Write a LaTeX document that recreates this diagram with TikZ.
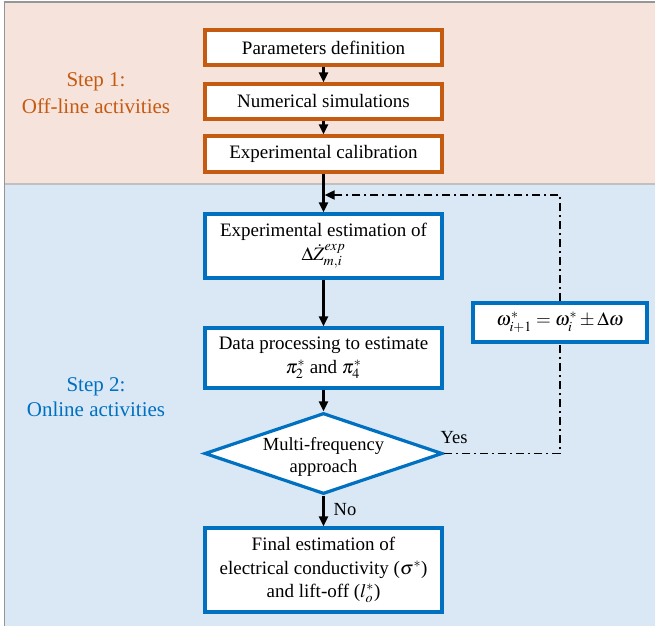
\documentclass[tikz,border=0pt]{standalone}
\usepackage{mathptmx}
\usepackage[no-math]{fontspec}
\setmainfont{Liberation Serif}
\usetikzlibrary{shapes.geometric,arrows.meta,calc}
\definecolor{pinkbg}{RGB}{246,227,219}
\definecolor{bluebg}{RGB}{218,232,246}
\definecolor{orangeC}{RGB}{197,90,17}
\definecolor{blueC}{RGB}{0,112,192}
\definecolor{frameC}{RGB}{150,150,150}
\tikzset{
  obox/.style={draw=orangeC, line width=3.2pt, fill=white, minimum width=237pt, minimum height=35pt, inner sep=0pt, font=\fontsize{19}{23}\selectfont, align=center},
  bbox/.style={draw=blueC, line width=3.2pt, fill=white, minimum width=237pt, minimum height=60pt, inner sep=0pt, font=\fontsize{19}{23.5}\selectfont, align=center},
  diabox/.style={draw=blueC, line width=3.2pt, fill=white, shape=diamond, aspect=2.94, inner sep=0pt, minimum width=238pt, minimum height=81pt},
  arr/.style={line width=2.2pt, -{Triangle[length=10pt,width=9pt]}},
  dashdot/.style={line width=1.8pt, dash pattern=on 8pt off 4pt on 2pt off 4pt},
  lbl/.style={font=\fontsize{18.5}{22.5}\selectfont, inner sep=0pt}
}
\begin{document}
\begin{tikzpicture}[x=1pt,y=-1pt]
\useasboundingbox (0,0) rectangle (655,626);
% backgrounds
\fill[pinkbg] (4.5,2) rectangle (655,184);
\fill[bluebg] (4.5,184) rectangle (655,626);
\draw[line width=1.2pt, color=frameC!60] (4.5,184) -- (655,184);
\draw[line width=1.8pt, color=frameC] (4.5,626) -- (4.5,2) -- (655,2);
% step labels
\node[text=orangeC, font=\fontsize{21}{27}\selectfont, align=center] (s1) at (96,93.5) {Step 1:\\Off-line activities};
\node[text=blueC, font=\fontsize{21}{25}\selectfont, align=center] (s2) at (96,397.5) {Step 2:\\Online activities};
% nodes
\node[obox] (par) at (323.5,47.5) {Parameters definition};
\node[obox] (num) at (323.5,101.5) {Numerical simulations};
\node[obox, minimum height=36pt] (cal) at (323.5,154) {Experimental calibration};
\node[bbox, minimum height=64pt] (exp) at (323.5,246) {Experimental estimation of\\$\Delta\dot{Z}^{exp}_{m,i}$};
\node[bbox, minimum height=60pt] (dp) at (323.5,358) {Data processing to estimate\\$\pi_2^*$ and $\pi_4^*$};
\node[diabox] (dia) at (323.5,453.5) {};
\node[lbl, align=center] (diat) at (323.5,457) {Multi-frequency\\approach};
\node[bbox, minimum height=84pt] (fin) at (323.5,570) {Final estimation of\\electrical conductivity ($\sigma^*$)\\and lift-off ($l_o^*$)};
\node[bbox, minimum width=174pt, minimum height=39pt] (om) at (560,322.5) {$\omega^*_{i+1} = \omega^*_i \pm \Delta\omega$};
\coordinate (join) at (323.5,195);
% connectors
\draw[arr] (par) -- (num);
\draw[arr] (num) -- (cal);
\draw[arr] (cal) -- (exp);
\draw[arr] (exp) -- (dp);
\draw[arr] (dp) -- (dia);
\draw[arr] (dia) -- (fin);
\node[lbl] (no) at (345,510) {No};
\node[lbl] (yes) at (454,438) {Yes};
\draw[dashdot] (dia.east) -| (om.south);
\draw[dashdot, -{Triangle[length=10pt,width=9pt]}, shorten >=1.1pt] (om.north) |- (join);
\end{tikzpicture}
\end{document}
